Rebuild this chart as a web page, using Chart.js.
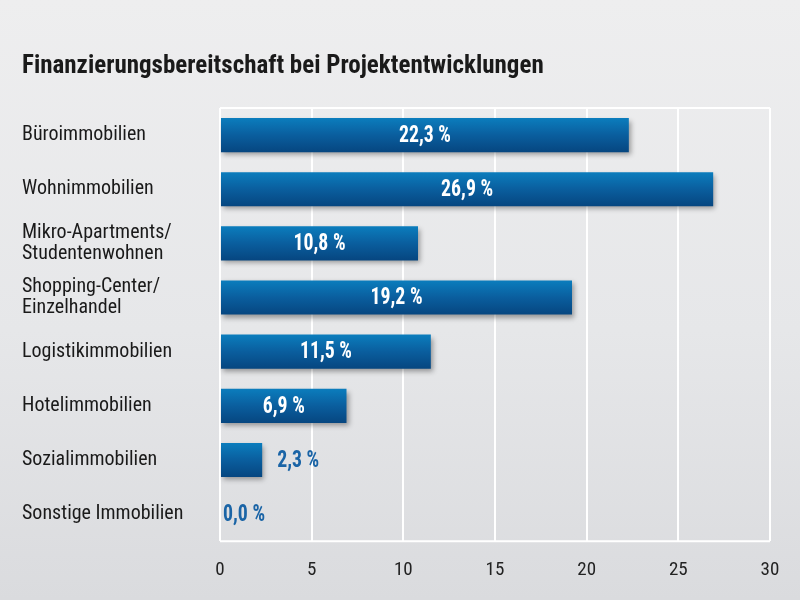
<!DOCTYPE html>
<html>
<head>
<meta charset="utf-8">
<script src="https://cdn.jsdelivr.net/npm/chart.js@4"></script>
<style>
html,body{margin:0;padding:0;}
body{width:800px;height:600px;background:linear-gradient(180deg,#eeeeef 0%,#e6e7e9 55%,#dadbde 100%);}
#wrap{width:800px;height:600px;position:relative;}
</style>
</head>
<body>
<div id="wrap"><canvas id="c" width="800" height="600"></canvas></div>
<script>
const chartTitle = 'Finanzierungsbereitschaft bei Projektentwicklungen';
const categories = [
  'Büroimmobilien',
  'Wohnimmobilien',
  ['Mikro-Apartments/', 'Studentenwohnen'],
  ['Shopping-Center/', 'Einzelhandel'],
  'Logistikimmobilien',
  'Hotelimmobilien',
  'Sozialimmobilien',
  'Sonstige Immobilien'
];
const values = [22.3, 26.9, 10.8, 19.2, 11.5, 6.9, 2.3, 0.0];
const xTicks = [0, 5, 10, 15, 20, 25, 30];

const FONT = '"Liberation Sans Narrow", "Roboto Condensed", Roboto, sans-serif';

const fmt = v => v.toFixed(1).replace('.', ',') + ' %';

const shadowPlugin = {
  id: 'barShadow',
  beforeDatasetsDraw(chart) {
    const ctx = chart.ctx;
    ctx.save();
    ctx.shadowColor = 'rgba(0,0,0,0.35)';
    ctx.shadowBlur = 5;
    ctx.shadowOffsetX = 2;
    ctx.shadowOffsetY = 3;
  },
  afterDatasetsDraw(chart) {
    chart.ctx.restore();
  }
};

const framePlugin = {
  id: 'frame',
  beforeDatasetsDraw(chart) {
    const {ctx, chartArea: a} = chart;
    ctx.save();
    ctx.strokeStyle = '#ffffff';
    ctx.lineWidth = 2;
    ctx.beginPath();
    ctx.moveTo(a.left, a.top); ctx.lineTo(a.right, a.top);
    ctx.moveTo(a.left, a.bottom); ctx.lineTo(a.right, a.bottom);
    ctx.stroke();
    ctx.restore();
  }
};

const SX = 0.86;
const labelPlugin = {
  id: 'valueLabels',
  afterDatasetsDraw(chart) {
    const ctx = chart.ctx;
    const meta = chart.getDatasetMeta(0);
    ctx.save();
    ctx.font = 'bold 23px ' + FONT;
    ctx.textBaseline = 'middle';
    meta.data.forEach((bar, i) => {
      const v = values[i];
      const w = bar.x - bar.base;
      const txt = fmt(v);
      const tw = ctx.measureText(txt).width * SX;
      ctx.save();
      if (w > tw + 20) {
        ctx.fillStyle = '#ffffff';
        ctx.textAlign = 'center';
        ctx.translate((bar.x + bar.base) / 2, bar.y + 1);
      } else {
        ctx.fillStyle = '#1a64a6';
        ctx.textAlign = 'left';
        ctx.translate(bar.x + (v > 0 ? 15 : 3), bar.y + 1);
      }
      ctx.scale(SX, 1);
      ctx.fillText(txt, 0, 0);
      ctx.restore();
    });
    ctx.restore();
  }
};

const BAR_FRAC = 0.63;
function barGradient(context) {
  const chart = context.chart;
  const ys = chart.scales && chart.scales.y;
  if (!chart.chartArea || !ys) return '#0a5a98';
  const yc = ys.getPixelForValue(context.dataIndex);
  const band = (chart.chartArea.bottom - chart.chartArea.top) / categories.length;
  const h = band * BAR_FRAC;
  if (!Number.isFinite(yc) || !Number.isFinite(h)) return '#0a5a98';
  const g = chart.ctx.createLinearGradient(0, yc - h / 2, 0, yc + h / 2);
  g.addColorStop(0, '#0b7dbd');
  g.addColorStop(0.5, '#0a5e9e');
  g.addColorStop(1, '#064680');
  return g;
}

new Chart(document.getElementById('c'), {
  type: 'bar',
  data: {
    labels: categories,
    datasets: [{
      data: values,
      backgroundColor: barGradient,
      borderWidth: 0,
      categoryPercentage: BAR_FRAC,
      barPercentage: 1.0
    }]
  },
  options: {
    indexAxis: 'y',
    responsive: false,
    animation: false,
    devicePixelRatio: 1,
    layout: { padding: { left: 22, right: 30, top: 0, bottom: 0 } },
    plugins: {
      legend: { display: false },
      tooltip: { enabled: false },
      title: {
        display: true,
        text: chartTitle,
        align: 'start',
        color: '#1a1a1a',
        font: { family: FONT, size: 25, weight: 'bold' },
        padding: { top: 52, bottom: 26 }
      }
    },
    scales: {
      x: {
        min: 0, max: 30,
        afterBuildTicks(scale) { scale.ticks = xTicks.map(v => ({ value: v })); },
        grid: { color: '#ffffff', lineWidth: 2, drawTicks: false },
        border: { display: false },
        ticks: { color: '#222222', font: { family: FONT, size: 19 }, padding: 18 }
      },
      y: {
        afterFit(scale) { scale.width = 198; },
        grid: { display: false },
        border: { display: false },
        ticks: {
          crossAlign: 'far',
          color: '#1a1a1a',
          font: { family: FONT, size: 20, lineHeight: 1.05 },
          padding: 0
        }
      }
    }
  },
  plugins: [framePlugin, shadowPlugin, labelPlugin]
});
</script>
</body>
</html>
